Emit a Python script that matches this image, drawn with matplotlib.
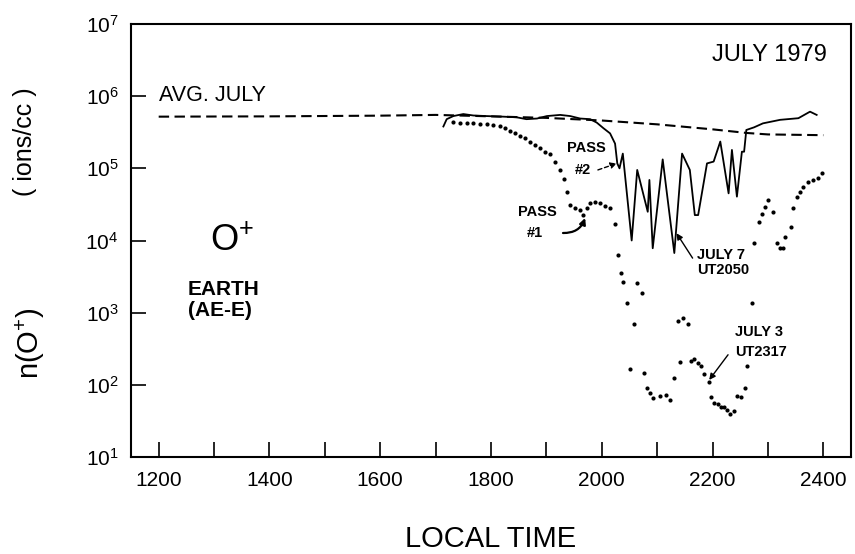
import matplotlib
matplotlib.use("Agg")
import matplotlib.pyplot as plt
from matplotlib.ticker import NullLocator

plt.rcParams['font.family'] = ['Liberation Sans', 'DejaVu Sans']
plt.rcParams['mathtext.fontset'] = 'custom'
plt.rcParams['mathtext.rm'] = 'Liberation Sans'
plt.rcParams['mathtext.default'] = 'regular'

# ---------------- data ----------------
avg_time = [1200, 1400, 1600, 1700, 1800, 1900, 2000, 2100, 2200, 2262, 2300, 2400]
avg_density = [5.2e5, 5.25e5, 5.37e5, 5.5e5, 5.25e5, 5.0e5, 4.6e5, 4.07e5, 3.47e5,
               3.09e5, 2.95e5, 2.88e5]

pass2_time = [1714, 1720, 1732, 1750, 1768, 1792, 1822, 1846, 1864, 1883, 1901, 1925,
              1943, 1961, 1979, 1991, 2003, 2015, 2024, 2028, 2032, 2038, 2054, 2064,
              2083, 2086, 2092, 2110, 2131, 2145, 2159, 2168, 2174, 2190, 2202, 2214,
              2229, 2235, 2244, 2253, 2257, 2261, 2275, 2291, 2322, 2355, 2376, 2388]
pass2_density = [3.8e5, 4.8e5, 5.3e5, 5.65e5, 5.4e5, 5.3e5, 5.2e5, 5.1e5, 4.8e5, 4.9e5,
                 5.3e5, 5.5e5, 5.3e5, 4.9e5, 4.8e5, 4.3e5, 3.6e5, 3.05e5, 2.2e5, 1.17e5,
                 1.0e5, 1.6e5, 1.0e4, 9.5e4, 2.5e4, 6.9e4, 7.8e3, 1.33e5, 6.7e3, 1.6e5,
                 9.5e4, 2.25e4, 2.25e4, 1.17e5, 1.24e5, 2.35e5, 4.5e4, 1.8e5, 4.05e4,
                 1.7e5, 1.7e5, 3.4e5, 3.7e5, 4.2e5, 4.7e5, 4.95e5, 6.1e5, 5.5e5]

pass1_time = [1732, 1744, 1756, 1768, 1780, 1792, 1804, 1816, 1825, 1834, 1843, 1852,
              1862, 1870, 1880, 1889, 1898, 1907, 1916, 1924, 1931, 1938, 1943, 1952,
              1961, 1967, 1973, 1979, 1988, 1997, 2006, 2015, 2024, 2029, 2034, 2039,
              2045, 2051, 2059, 2064, 2072, 2077, 2081, 2087, 2093, 2105, 2116, 2123,
              2131, 2137, 2141, 2147, 2155, 2161, 2167, 2173, 2179, 2185, 2193, 2197,
              2203, 2209, 2215, 2221, 2226, 2232, 2239, 2244, 2251, 2258, 2263, 2271,
              2275, 2283, 2289, 2295, 2301, 2310, 2316, 2322, 2328, 2331, 2341, 2346,
              2352, 2358, 2364, 2373, 2382, 2391, 2397]
pass1_density = [4.4e5, 4.2e5, 4.2e5, 4.2e5, 4.1e5, 4.1e5, 4.0e5, 3.8e5, 3.6e5, 3.3e5,
                 3.05e5, 2.8e5, 2.6e5, 2.35e5, 2.1e5, 1.9e5, 1.7e5, 1.56e5, 1.24e5,
                 9.5e4, 7.1e4, 4.75e4, 3.1e4, 2.8e4, 2.65e4, 2.26e4, 2.8e4, 3.3e4,
                 3.45e4, 3.3e4, 3.0e4, 2.8e4, 1.7e4, 6.3e3, 3.6e3, 2.7e3, 1.38e3, 165,
                 690, 2.6e3, 1.9e3, 148, 90, 77, 65, 70, 73, 62, 126, 770, 206, 840, 700,
                 217, 229, 200, 180, 142, 109, 67, 56, 54, 50, 49, 45, 40, 43, 69, 67, 90,
                 180, 1.35e3, 9.1e3, 1.8e4, 2.3e4, 2.95e4, 3.6e4, 2.5e4, 9.1e3, 7.8e3,
                 7.8e3, 1.13e4, 1.56e4, 2.8e4, 4.05e4, 4.75e4, 5.6e4, 6.55e4, 6.9e4,
                 7.3e4, 8.5e4]

x_major = [1200, 1400, 1600, 1800, 2000, 2200, 2400]
x_minor = [1300, 1500, 1700, 1900, 2100, 2300]
y_exponents = [1, 2, 3, 4, 5, 6, 7]

# ---------------- figure ----------------
fig = plt.figure(figsize=(8.55, 5.54), dpi=100)
ax = fig.add_axes([131 / 855, 1 - 457 / 554, 720 / 855, 433 / 554])

ax.plot(avg_time, avg_density, color='black', lw=1.5, linestyle=(0, (5, 2.6)))
ax.plot(pass2_time, pass2_density, color='black', lw=1.3)
ax.scatter(pass1_time, pass1_density, s=9, color='black', linewidths=0)

ax.set_yscale('log')
ax.set_xlim(1150, 2450)
ax.set_ylim(1e1, 1e7)
ax.set_xticks(x_major)
ax.set_xticklabels([str(v) for v in x_major])
ax.set_xticks(x_minor, minor=True)
ax.set_yticks([10.0 ** e for e in y_exponents])
ax.set_yticklabels([r'$\mathregular{10^{%d}}$' % e for e in y_exponents])
ax.yaxis.set_minor_locator(NullLocator())
ax.tick_params(axis='x', which='both', direction='in', length=10.5, width=1.2,
               labelsize=15, pad=10, top=False)
ax.tick_params(axis='y', which='major', direction='in', length=10.5, width=1.2,
               labelsize=15, pad=9, right=False)
for sp in ax.spines.values():
    sp.set_linewidth(1.5)

# axis labels
fig.text(0.5 * (131 + 851) / 855, 1 - 547 / 554, 'LOCAL TIME', ha='center', va='baseline',
         fontsize=21)
fig.text(25 / 855, 1 - 142 / 554, '( ions/cc )', rotation=90, ha='center', va='center',
         fontsize=18)
fig.text(30 / 855, 1 - 343 / 554, r'n(O$^{+}$)', rotation=90, ha='center', va='center',
         fontsize=21)

# text annotations
ax.text(0.9667, 0.928, 'JULY 1979', transform=ax.transAxes, ha='right', va='center',
        fontsize=17)
ax.text(0.039, 0.836, 'AVG. JULY', transform=ax.transAxes, ha='left', va='center',
        fontsize=15.5)
ax.text(0.140, 0.499, r'O$^{+}$', transform=ax.transAxes, ha='center', va='center',
        fontsize=26)
ax.text(0.079, 0.387, 'EARTH', transform=ax.transAxes, ha='left', va='center',
        fontsize=15, fontweight='bold')
ax.text(0.079, 0.339, '(AE-E)', transform=ax.transAxes, ha='left', va='center',
        fontsize=15, fontweight='bold')

small = dict(fontsize=10.5, fontweight='bold', va='center')
ax.text(1972, 1.9e5, 'PASS', ha='center', **small)
ax.text(1965, 9.5e4, '#2', ha='center', **small)
ax.annotate('', xy=(2027, 1.17e5), xytext=(1993, 9.5e4),
            arrowprops=dict(arrowstyle='-|>', color='black', lw=1.0, linestyle=(0, (3, 2)),
                            mutation_scale=9, shrinkA=0, shrinkB=0))
ax.text(1884, 2.5e4, 'PASS', ha='center', **small)
ax.text(1879, 1.27e4, '#1', ha='center', **small)
ax.annotate('', xy=(1970, 2.05e4), xytext=(1930, 1.27e4),
            arrowprops=dict(arrowstyle='-|>', color='black', lw=1.6, mutation_scale=9,
                            connectionstyle='arc3,rad=0.35', shrinkA=0, shrinkB=0))
ax.text(2172, 6.3e3, 'JULY 7', ha='left', **small)
ax.text(2173, 3.86e3, 'UT2050', ha='left', **small)
ax.annotate('', xy=(2135, 1.26e4), xytext=(2164, 5.7e3),
            arrowprops=dict(arrowstyle='-|>', color='black', lw=1.0, mutation_scale=9,
                            shrinkA=0, shrinkB=0))
ax.text(2241, 533, 'JULY 3', ha='left', **small)
ax.text(2240, 282, 'UT2317', ha='left', **small)
ax.annotate('', xy=(2194, 117), xytext=(2228, 261),
            arrowprops=dict(arrowstyle='-|>', color='black', lw=1.0, mutation_scale=9,
                            shrinkA=0, shrinkB=0))

fig.savefig('out.png', dpi=100)
